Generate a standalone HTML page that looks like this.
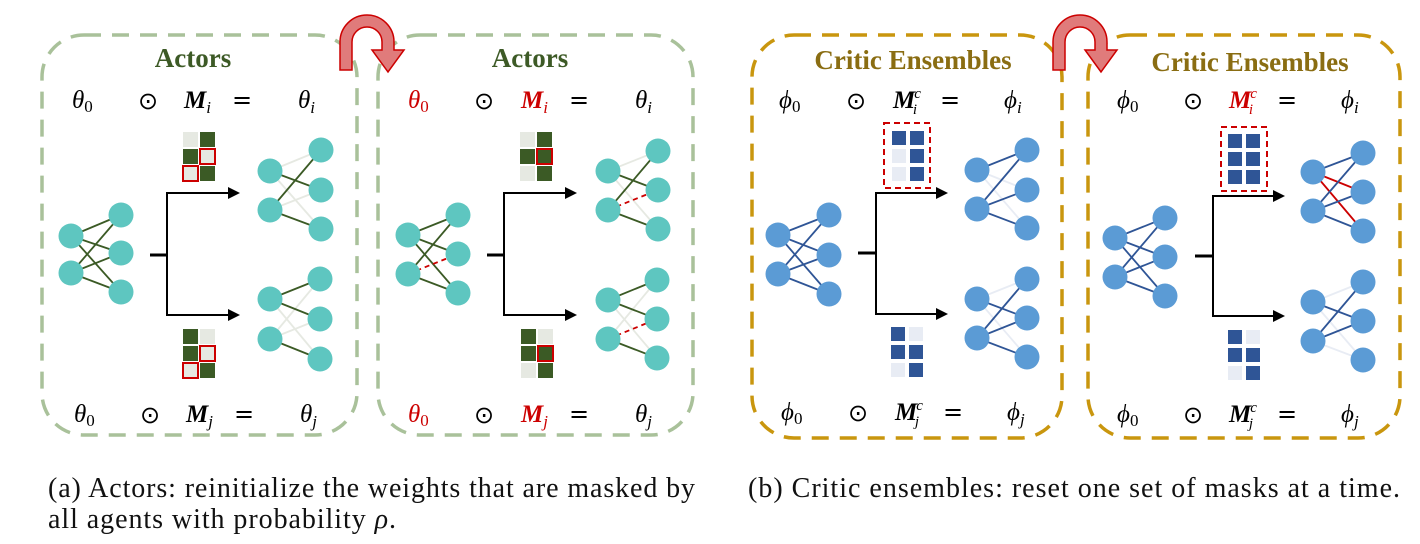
<!DOCTYPE html>
<html><head><meta charset="utf-8"><style>
body{margin:0;background:#fff;width:1420px;height:544px;overflow:hidden}
svg{position:absolute;left:0;top:0}
.m{font-family:"Liberation Serif",serif;font-size:25px;font-style:italic}
.o{font-family:"DejaVu Sans",sans-serif;font-size:24px}
.t{font-family:"Liberation Serif",serif;font-weight:bold;font-size:27px}
.c{font-family:"Liberation Serif",serif;font-size:28px;fill:#111}
</style></head><body>
<svg id="s" width="1420" height="544" viewBox="0 0 1420 544">
<g fill="none" stroke-width="3.5" stroke-dasharray="17 11">
<rect x="42" y="35" width="315" height="400" rx="42" stroke="#a9c19a"/>
<rect x="378" y="35" width="315" height="400" rx="42" stroke="#a9c19a"/>
<rect x="752" y="35" width="310" height="403" rx="42" stroke="#c9960e"/>
<rect x="1088" y="35" width="312" height="403" rx="42" stroke="#c9960e"/>
</g>
<path d="M340,70 L340,42 A27,27 0 0 1 394,42 L394,50 L404,50 L388,72 L372,50 L382,50 L382,42 A15,15 0 0 0 352,42 L352,70 Z" fill="#e07b7b" stroke="#c00" stroke-width="1.5"/>
<path d="M1053,70 L1053,42 A27,27 0 0 1 1107,42 L1107,50 L1117,50 L1101,72 L1085,50 L1095,50 L1095,42 A15,15 0 0 0 1065,42 L1065,70 Z" fill="#e07b7b" stroke="#c00" stroke-width="1.5"/>
<text class="t" x="193" y="67" text-anchor="middle" fill="#3d5a26">Actors</text>
<text class="t" x="530" y="67" text-anchor="middle" fill="#3d5a26">Actors</text>
<text class="t" x="913" y="69" text-anchor="middle" fill="#8a6d12">Critic Ensembles</text>
<text class="t" x="1250" y="71" text-anchor="middle" fill="#8a6d12">Critic Ensembles</text>
<!-- panel1 math -->
<text class="m" x="72" y="108">θ<tspan font-style="normal" font-size="17" dy="4">0</tspan></text>
<text class="o" x="138" y="109">⊙</text>
<text class="m" x="184" y="108" font-weight="bold">M<tspan font-weight="normal" font-size="17" dy="5">i</tspan></text>
<text class="o" x="232" y="108">=</text>
<text class="m" x="298" y="108">θ<tspan font-size="17" dy="5">i</tspan></text>
<text class="m" x="74" y="422">θ<tspan font-style="normal" font-size="17" dy="4">0</tspan></text>
<text class="o" x="140" y="423">⊙</text>
<text class="m" x="186" y="422" font-weight="bold">M<tspan font-weight="normal" font-size="17" dy="5">j</tspan></text>
<text class="o" x="234" y="422">=</text>
<text class="m" x="300" y="422">θ<tspan font-size="17" dy="5">j</tspan></text>
<!-- panel2 math -->
<text class="m" x="408" y="108" fill="#c00">θ<tspan font-style="normal" font-size="17" dy="4">0</tspan></text>
<text class="o" x="474" y="109">⊙</text>
<text class="m" x="521" y="108" font-weight="bold" fill="#c00">M<tspan font-weight="normal" font-size="17" dy="5">i</tspan></text>
<text class="o" x="569" y="108">=</text>
<text class="m" x="635" y="108">θ<tspan font-size="17" dy="5">i</tspan></text>
<text class="m" x="408" y="422" fill="#c00">θ<tspan font-style="normal" font-size="17" dy="4">0</tspan></text>
<text class="o" x="474" y="423">⊙</text>
<text class="m" x="521" y="422" font-weight="bold" fill="#c00">M<tspan font-weight="normal" font-size="17" dy="5">j</tspan></text>
<text class="o" x="569" y="422">=</text>
<text class="m" x="635" y="422">θ<tspan font-size="17" dy="5">j</tspan></text>
<!-- panel3 math -->
<text class="m" x="779" y="108">ϕ<tspan font-style="normal" font-size="17" dy="4">0</tspan></text>
<text class="o" x="846" y="109">⊙</text>
<text class="m" x="893" y="108" font-weight="bold">M<tspan font-weight="normal" font-size="15" dx="-1" dy="-10">c</tspan><tspan font-weight="normal" font-size="15" dx="-8" dy="16">i</tspan></text>
<text class="o" x="940" y="108">=</text>
<text class="m" x="1004" y="108">ϕ<tspan font-size="17" dy="5">i</tspan></text>
<text class="m" x="781" y="420">ϕ<tspan font-style="normal" font-size="17" dy="4">0</tspan></text>
<text class="o" x="848" y="421">⊙</text>
<text class="m" x="895" y="420" font-weight="bold">M<tspan font-weight="normal" font-size="15" dx="-1" dy="-10">c</tspan><tspan font-weight="normal" font-size="15" dx="-8" dy="16">j</tspan></text>
<text class="o" x="943" y="420">=</text>
<text class="m" x="1007" y="420">ϕ<tspan font-size="17" dy="5">j</tspan></text>
<!-- panel4 math -->
<text class="m" x="1117" y="108">ϕ<tspan font-style="normal" font-size="17" dy="4">0</tspan></text>
<text class="o" x="1183" y="109">⊙</text>
<text class="m" x="1229" y="108" font-weight="bold" fill="#c00">M<tspan font-weight="normal" font-size="15" dx="-1" dy="-10">c</tspan><tspan font-weight="normal" font-size="15" dx="-8" dy="16">i</tspan></text>
<text class="o" x="1277" y="108">=</text>
<text class="m" x="1341" y="108">ϕ<tspan font-size="17" dy="5">i</tspan></text>
<text class="m" x="1117" y="422">ϕ<tspan font-style="normal" font-size="17" dy="4">0</tspan></text>
<text class="o" x="1183" y="423">⊙</text>
<text class="m" x="1229" y="422" font-weight="bold">M<tspan font-weight="normal" font-size="15" dx="-1" dy="-10">c</tspan><tspan font-weight="normal" font-size="15" dx="-8" dy="16">j</tspan></text>
<text class="o" x="1277" y="422">=</text>
<text class="m" x="1341" y="422">ϕ<tspan font-size="17" dy="5">j</tspan></text>
<!-- captions -->
<text class="c" x="48" y="497" textLength="647" lengthAdjust="spacing">(a) Actors: reinitialize the weights that are masked by</text>
<text class="c" x="48" y="528" textLength="348" lengthAdjust="spacing">all agents with probability <tspan font-style="italic">ρ</tspan>.</text>
<text class="c" x="748" y="497" textLength="652" lengthAdjust="spacing">(b) Critic ensembles: reset one set of masks at a time.</text>
<g id="g"></g>
</svg>
<script>
var g=document.getElementById('g'),NS='http://www.w3.org/2000/svg';
function el(t,a){var e=document.createElementNS(NS,t);for(var k in a)e.setAttribute(k,a[k]);g.appendChild(e);return e;}
function net(lx,ly,rx,ry,fill,dark,light,spec){
 var L=[[lx,ly[0]],[lx,ly[1]]],R=[[rx,ry[0]],[rx,ry[1]],[rx,ry[2]]];
 var k=0;
 for(var pass=0;pass<2;pass++){k=0;
 for(var i=0;i<2;i++)for(var j=0;j<3;j++){var c=spec[k++];
  if((pass==0)!=(c=='l'))continue;
  var a={x1:L[i][0],y1:L[i][1],x2:R[j][0],y2:R[j][1],'stroke-width':1.8};
  if(c=='d')a.stroke=dark;else if(c=='l')a.stroke=light;else if(c=='r')a.stroke='#c00';
  else if(c=='x'){a.stroke='#c00';a['stroke-dasharray']='5 4';}
  el('line',a);}}
 L.concat(R).forEach(function(p){el('circle',{cx:p[0],cy:p[1],r:12.5,fill:fill});});
}
function branch(x0,x1,xv,ym,yt,yb,xe){
 el('line',{x1:x0,y1:ym,x2:xv,y2:ym,stroke:'#000','stroke-width':3});
 el('path',{d:'M'+(xe)+','+yt+' L'+xv+','+yt+' L'+xv+','+yb+' L'+xe+','+yb,fill:'none',stroke:'#000','stroke-width':2});
 [yt,yb].forEach(function(y){el('path',{d:'M'+(xe-2)+','+(y-6)+' L'+(xe+10)+','+y+' L'+(xe-2)+','+(y+6)+'Z',fill:'#000'});});
}
function mask(x,y,s,gap,cells,dk,lt){
 for(var r=0;r<3;r++)for(var c=0;c<2;c++){var v=cells[r][c];
  var a={x:x+c*(s+gap),y:y+r*(s+gap),width:s,height:s,fill:v[0]=='d'?dk:lt};
  if(v[1]=='R'){a.stroke='#c00';a['stroke-width']=2;}
  el('rect',a);}
}
var GD='#3b5a25',GL='#e6e9e2',TQ='#5ec6c0',BD='#2f5596',BL='#e8ecf4',BC='#5b9bd5';
net(71,[236,273],121,[215,253,292],TQ,GD,GL,'dddddd');
net(270,[171,210],321,[150,190,229],TQ,GD,GL,'ldldld');
net(270,[299,339],320,[279,319,359],TQ,GD,GL,'ddllld');
branch(150,240,167,255,193,315,230);
mask(183,132,15,2,[['l','d'],['d','lR'],['lR','d']],GD,GL);
mask(183,329,15,2,[['d','l'],['d','lR'],['lR','d']],GD,GL);
net(408,[235,274],458,[215,254,293],TQ,GD,GL,'ddddxd');
net(608,[171,210],658,[151,190,229],TQ,GD,GL,'ldldxd');
net(608,[300,339],657,[280,319,358],TQ,GD,GL,'ddllxd');
branch(487,577,504,255,193,315,567);
mask(520,132,15,2,[['l','d'],['d','dR'],['l','d']],GD,GL);
mask(521,329,15,2,[['d','l'],['d','dR'],['l','d']],GD,GL);
net(778,[235,274],829,[215,255,294],BC,BD,BL,'dddddd');
net(977,[170,209],1027,[150,190,228],BC,BD,BL,'dllddd');
net(977,[299,338],1027,[279,318,357],BC,BD,BL,'ldlddd');
branch(858,948,876,253,193,314,938);
el('rect',{x:884,y:123,width:46,height:65,fill:'none',stroke:'#c00','stroke-width':2,'stroke-dasharray':'6 4'});
mask(892,131,14,4,[['d','d'],['l','d'],['l','d']],BD,BL);
mask(891,327,14,4,[['d','l'],['d','d'],['l','d']],BD,BL);
net(1115,[238,277],1165,[218,257,296],BC,BD,BL,'dddddd');
net(1313,[172,211],1363,[153,192,231],BC,BD,BL,'drrddd');
net(1313,[302,341],1363,[282,321,360],BC,BD,BL,'ldlddl');
branch(1195,1285,1213,256,196,316,1275);
el('rect',{x:1221,y:127,width:46,height:64,fill:'none',stroke:'#c00','stroke-width':2,'stroke-dasharray':'6 4'});
mask(1228,134,14,4,[['d','d'],['d','d'],['d','d']],BD,BL);
mask(1228,330,14,4,[['d','l'],['d','d'],['l','d']],BD,BL);
</script>
</body></html>
